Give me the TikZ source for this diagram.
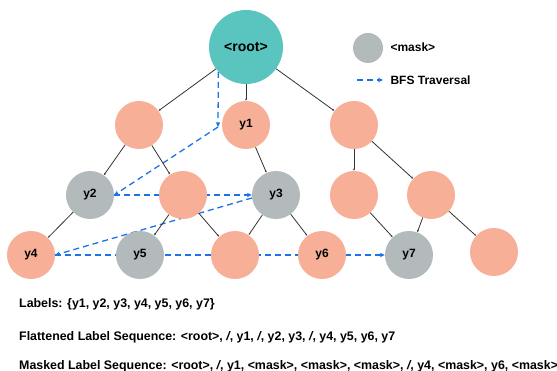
\documentclass[tikz,border=0pt]{standalone}
\usepackage{fontspec}
\setmainfont{Liberation Sans}
\usepackage{tikz}
\usetikzlibrary{arrows.meta, positioning, backgrounds}
\definecolor{rootteal}{RGB}{90, 196, 190}
\definecolor{labelpink}{RGB}{248, 175, 152}
\definecolor{maskgray}{RGB}{178, 186, 187}
\definecolor{bfsblue}{RGB}{26, 115, 232}
\definecolor{edgegray}{RGB}{51, 51, 51}

\begin{document}
\begin{tikzpicture}[
    x=1pt, y=-1pt,
    rootnode/.style={circle, fill=rootteal, minimum size=74pt, inner sep=0pt, font=\fontsize{14}{16}\selectfont\bfseries},
    labelnode/.style={circle, fill=labelpink, minimum size=48pt, inner sep=0pt, font=\fontsize{12}{14}\selectfont\bfseries},
    masknode/.style={circle, fill=maskgray, minimum size=48pt, inner sep=0pt, font=\fontsize{12}{14}\selectfont\bfseries},
    treeedge/.style={-{Latex[length=2pt, width=2pt]}, edgegray, line width=0.8pt},
    bfsarrow/.style={-{Stealth[length=5pt, width=4.5pt]}, bfsblue, line width=1.3pt, dash pattern=on 6pt off 4pt},
    legendtext/.style={anchor=west, font=\fontsize{12}{14}\selectfont\bfseries},
    seqtext/.style={anchor=west, inner sep=0pt, font=\fontsize{12.4}{14}\selectfont\bfseries}
]
\useasboundingbox (0,0) rectangle (557,371);

% Tree
\node[rootnode] (root) at (246, 47) {<root>};
\node[labelnode] (a) at (139, 125) {};
\node[labelnode] (y1) at (246, 125) {y1};
\node[labelnode] (b) at (354, 125) {};

\node[masknode] (y2) at (90, 195) {y2};
\node[labelnode] (c) at (183, 195) {};
\node[masknode] (y3) at (276, 195) {y3};
\node[labelnode] (d) at (354, 195) {};
\node[labelnode] (e) at (431, 195) {};

\node[labelnode] (y4) at (31, 255) {y4};
\node[masknode] (y5) at (140, 255) {y5};
\node[labelnode] (f) at (235, 255) {};
\node[labelnode] (y6) at (322, 255) {y6};
\node[masknode] (y7) at (409, 255) {y7};
\node[labelnode] (g) at (494, 252) {};

\draw[treeedge] (root) -- (a);
\draw[treeedge] (root) -- (y1);
\draw[treeedge] (root) -- (b);
\draw[treeedge] (a) -- (y2);
\draw[treeedge] (a) -- (c);
\draw[treeedge] (y1) -- (y3);
\draw[treeedge] (b) -- (d);
\draw[treeedge] (b) -- (e);
\draw[treeedge] (y2) -- (y4);
\draw[treeedge] (c) -- (y5);
\draw[treeedge] (c) -- (f);
\draw[treeedge] (y3) -- (f);
\draw[treeedge] (y3) -- (y6);
\draw[treeedge] (d) -- (y7);
\draw[treeedge] (e) -- (y7);
\draw[treeedge] (e) -- (g);

% BFS traversal
\coordinate (turn) at (218, 127);
\begin{scope}[on background layer]
\draw[bfsarrow] (root.222) -- (turn);
\draw[bfsarrow] (turn) -- (y2.east);
\draw[bfsarrow] (y2.east) -- (y3.west);
\draw[bfsarrow] (y3.187) -- (y4.east);
\draw[bfsarrow] (y4.east) -- (y7.west);
\end{scope}

% Legend
\node[circle, fill=maskgray, minimum size=30pt, inner sep=0pt] (legmask) at (368, 48) {};
\node[legendtext] (legmasktext) at (387, 47) {<mask>};
\coordinate (legfrom) at (357, 80);
\coordinate (legto) at (383, 80);
\draw[bfsarrow] (legfrom) -- (legto);
\node[legendtext] (legbfstext) at (387, 80) {BFS Traversal};

% Sequences
\node[seqtext] (labels) at (19, 304) {Labels: \{y1, y2, y3, y4, y5, y6, y7\}};
\node[seqtext] (flat) at (19, 337) {Flattened Label Sequence: <root>, \textit{/}, y1, \textit{/}, y2, y3, \textit{/}, y4, y5, y6, y7};
\node[seqtext] (masked) at (19, 366) {Masked Label Sequence: <root>, \textit{/}, y1, <mask>, <mask>, <mask>, \textit{/}, y4, <mask>, y6, <mask>};

\end{tikzpicture}
\end{document}
